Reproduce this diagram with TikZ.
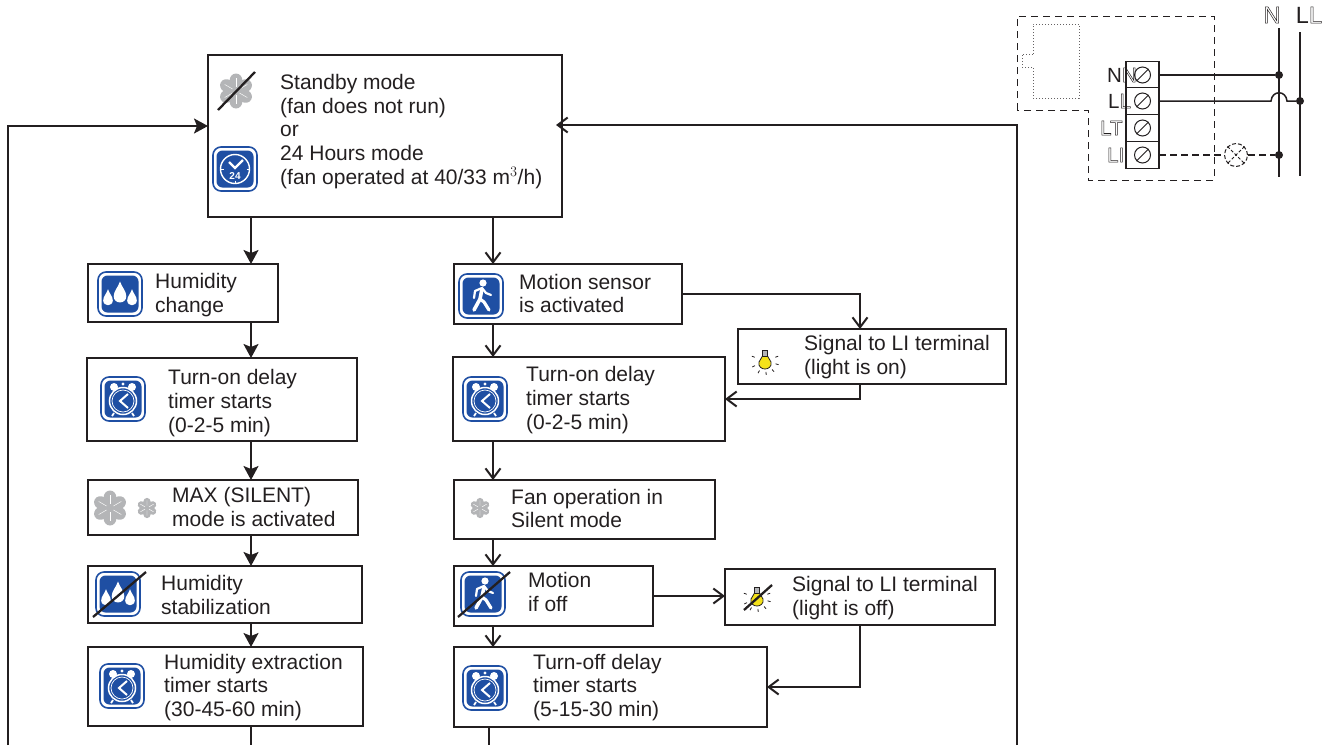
\documentclass[tikz,border=0pt]{standalone}
\usepackage{fontspec}
\usepackage{tikz}
\usepackage{xcolor}
\usetikzlibrary{arrows.meta, calc}
\setmainfont{Liberation Sans}

\definecolor{tileblue}{HTML}{1F4FA3}
\definecolor{fangray}{HTML}{B4B5B7}
\definecolor{inkdark}{HTML}{231F20}
\definecolor{bulbyellow}{HTML}{F5E21A}

\newcommand{\hollowtext}[1]{\special{pdf:code 1 Tr 0.5 w}#1\special{pdf:code 0 Tr 1 w}}

\tikzset{
  flowbox/.style={draw=inkdark, line width=1.5pt, inner sep=0pt, outer sep=0pt},
  flowtext/.style={font=\fontsize{21}{23.6}\selectfont, text=inkdark, align=left, anchor=west, inner sep=0pt},
  flowfill/.style={draw=inkdark, line width=1.8pt, -{Stealth[length=14pt,width=15pt,inset=3pt]}},
  flowopen/.style={draw=inkdark, line width=1.8pt, -{Straight Barb[length=10pt,width=15pt,line width=2pt]}},
  wire/.style={draw=inkdark, line width=1.5pt},
  wirelabel/.style={font=\fontsize{20.5}{22}\selectfont, text=inkdark, anchor=west, inner sep=0pt},
  slashline/.style={draw=inkdark, line width=2.3pt},
  tile/.pic={
    \draw[tileblue, line width=1.6pt, fill=white, rounded corners=8pt] (-22,-22) rectangle (22,22);
    \fill[tileblue, rounded corners=6pt] (-18.5,-18.5) rectangle (18.5,18.5);
  },
  fanicon/.pic={
    \foreach \a in {0,60,...,300} {
      \fill[fangray, rotate=\a] (0,-10.5) ellipse (6.4 and 7);
    }
    \fill[fangray] (0,0) circle (6);
    \foreach \a in {0,60,...,300} {
      \draw[white, line width=.45pt, rotate=\a] (30:4) -- (30:13);
    }
  },
  dropsicon/.pic={
    \foreach \dx/\dy/\s in {-12/4/0.8, 0/-1/1.05, 12/4/0.8} {
      \fill[white, shift={(\dx,\dy)}, scale=\s] (0,-11) .. controls (2,-5) and (6,-2) .. (6,3)
        .. controls (6,7) and (3,9) .. (0,9) .. controls (-3,9) and (-6,7) .. (-6,3)
        .. controls (-6,-2) and (-2,-5) .. (0,-11);
    }
  },
  walkericon/.pic={
    \fill[white] (2,-13) circle (3.6);
    \draw[white, line width=3.6pt, line cap=round, line join=round] (1,-7) -- (-1,3) -- (-7,14);
    \draw[white, line width=3.2pt, line cap=round, line join=round] (-1,3) -- (3,6) -- (8,14);
    \draw[white, line width=2.2pt, line cap=round, line join=round] (-7,2) -- (-6,-5) -- (1,-8) -- (5,-3) -- (10,-1);
  },
  clockicon/.pic={
    \fill[white] (-9,-12) circle (4) (9,-12) circle (4) (0,-15) circle (1.6);
    \draw[white, line width=1.5pt, fill=tileblue] (0,2) circle (13.5);
    \draw[white, line width=.7pt] (0,2) circle (11);
    \draw[white, line width=1.8pt] (-9,14) -- (-11,17) (9,14) -- (11,17);
    \draw[white, line width=2pt] (5,-5) -- (-3,2) -- (5,9);
  },
  dayicon/.pic={
    \draw[white, line width=1.4pt] (0,0) circle (14.5);
    \foreach \a in {0,90,180} {
      \draw[white, line width=1pt] (\a:11.5) -- (\a:14.5);
    }
    \draw[white, line width=2.2pt] (-6,-7) -- (0,-1) -- (8,-9);
    \node[font=\bfseries\fontsize{10}{10}\selectfont, text=white, inner sep=0pt] (dayhours) at (0,7) {24};
  },
  bulbicon/.pic={
    \foreach \a in {-20,15,50,85,120,155,200} {
      \draw[inkdark, line width=.8pt] (\a:11) -- (\a:14);
    }
    \draw[inkdark, line width=.8pt, fill=bulbyellow] (-2.5,-5) -- (2.5,-5) -- (6,1) .. controls (7,6) and (3,8) .. (0,8) .. controls (-3,8) and (-7,6) .. (-6,1) -- cycle;
    \draw[inkdark, line width=.7pt, fill=fangray] (-2.2,-11) rectangle (2.2,-5);
  },
}

\begin{document}
\begin{tikzpicture}[x=1pt, y=-1pt]
\useasboundingbox (0,0) rectangle (1330,745);

% Flow boxes with their texts
\foreach \nm/\xa/\ya/\xb/\yb/\tx/\ty/\txt in {
  standby/208/55/562/217/280/131.5/{Standby mode\\(fan does not run)\\or\\24 Hours mode\\(fan operated at 40/33 m$^{3}$/h)},
  humid/88/264/278/322/155/295/{Humidity\\change},
  delayA/87/358/357/441/168/403/{Turn-on delay\\timer starts\\(0-2-5 min)},
  maxfan/88/480/358/535/172/507/{MAX (SILENT)\\mode is activated},
  stable/88/566/362/623/161/595/{Humidity\\stabilization},
  extract/88/647/363/726/164/687.5/{Humidity extraction\\timer starts\\(30-45-60 min)},
  motion/454/264/682/324/519/293.5/{Motion sensor\\is activated},
  delayB/453/357/725/441/526/400/{Turn-on delay\\timer starts\\(0-2-5 min)},
  silent/454/480/715/539/511/508.5/{Fan operation in\\Silent mode},
  nomotion/454/566/653/626/528/592/{Motion\\if off},
  delayC/454/647/767/727/533/687.5/{Turn-off delay\\timer starts\\(5-15-30 min)},
  lighton/738/329/1006/384/804/357/{Signal to LI terminal\\(light is on)},
  lightoff/725/569/995/625/792/598/{Signal to LI terminal\\(light is off)}} {
    \node[flowbox, minimum width={(\xb-\xa)*1pt}, minimum height={(\yb-\ya)*1pt}] (\nm) at ({(\xa+\xb)/2},{(\ya+\yb)/2}) {};
    \node[flowtext] (\nm text) at (\tx,\ty) {\txt};
}

% Blue tiles
\foreach \cx/\cy/\kind in {235/169/dayicon, 120/294/dropsicon, 123/399/clockicon, 118/594/dropsicon, 122/686/clockicon,
  481/296/walkericon, 485/399/clockicon, 483/594/walkericon, 485/688/clockicon} {
    \pic at (\cx,\cy) {tile};
    \pic at (\cx,\cy) {\kind};
}

% Fans and bulbs
\pic at (236,91) {fanicon};
\pic at (110,508) {fanicon};
\pic[scale=.58] at (147,508) {fanicon};
\pic[scale=.58] at (480,508) {fanicon};
\pic at (765,361) {bulbicon};
\pic at (757,598) {bulbicon};

% Crossed out icons
\draw[slashline] (218,110) -- (255,72);
\draw[slashline] (93,617) -- (146,572);
\draw[slashline] (458,617) -- (510,572);
\draw[slashline] (744,610) -- (772,585);

% Arrows
\coordinate (axisA) at (251,0);
\coordinate (axisB) at (493,0);
\coordinate (axisC) at (860,0);
\coordinate (axisD) at (489,0);
\coordinate (loopL) at (8,745);
\coordinate (loopR) at (1017,745);
\coordinate (endA) at (251,745);
\coordinate (endB) at (489,745);
\coordinate (backR) at (556,125);
\coordinate (backL) at (208,126);

\draw[flowfill] (standby.south -| axisA) -- (humid.north -| axisA);
\draw[flowfill] (humid.south -| axisA) -- (delayA.north -| axisA);
\draw[flowfill] (delayA.south -| axisA) -- (maxfan.north -| axisA);
\draw[flowfill] (maxfan.south -| axisA) -- (stable.north -| axisA);
\draw[flowfill] (stable.south -| axisA) -- (extract.north -| axisA);
\draw[flowbox] (extract.south -| axisA) -- (endA);

\draw[flowopen] (standby.south -| axisB) -- (motion.north -| axisB);
\draw[flowopen] (motion.south -| axisB) -- (delayB.north -| axisB);
\draw[flowopen] (delayB.south -| axisB) -- (silent.north -| axisB);
\draw[flowopen] (silent.south -| axisB) -- (nomotion.north -| axisB);
\draw[flowopen] (nomotion.south -| axisB) -- (delayC.north -| axisB);
\draw[flowbox] (delayC.south -| axisD) -- (endB);

\draw[flowopen] (motion.east) -| (lighton.north -| axisC);
\draw[flowopen] (lighton.south -| axisC) |- (delayB.east);
\draw[flowopen] (nomotion.east) -- (lightoff.west |- nomotion.east);
\draw[flowopen] (lightoff.south -| axisC) |- (delayC.east);

\draw[flowfill] (loopL) |- (backL);
\draw[flowopen] (loopR) |- (backR);

% Wiring sketch
\draw[inkdark, line width=1pt, dash pattern=on 7pt off 5pt] (1017,110) -- (1017,16) -- (1214,16) -- (1214,180) -- (1088,180) -- (1088,110) -- cycle;
\draw[inkdark!70, line width=1pt, dotted] (1033,54) -- (1033,24) -- (1079,24) -- (1079,98) -- (1033,98) -- (1033,67) -- (1022,67) -- (1022,54) -- cycle;

\foreach \nm/\cy/\lx/\lab in {termN/75/1107/{N\hollowtext{N}}, termL/101/1108/{L\hollowtext{L}},
  termT/128/1100/{\hollowtext{LT}}, termI/155/1107/{\hollowtext{LI}}} {
    \node[flowbox, fill=white, minimum width=33pt, minimum height=27pt] (\nm) at (1142.5,\cy) {};
    \node[wirelabel] (\nm lab) at (\lx,\cy) {\lab};
    \node[draw=inkdark, circle, line width=1pt, minimum size=16pt, inner sep=0pt] (\nm screw) at (\nm) {};
    \draw[inkdark, line width=1pt] (\nm screw.225) -- ($(\nm screw.45)$);
}

\coordinate (railNtop) at (1279,28);
\coordinate (railNend) at (1279,177);
\coordinate (railLtop) at (1300,32);
\coordinate (railLend) at (1300,176);
\node[fill=inkdark, circle, minimum size=8pt, inner sep=0pt] (dotN) at (1279,75) {};
\node[fill=inkdark, circle, minimum size=8pt, inner sep=0pt] (dotL) at (1300,101) {};
\node[fill=inkdark, circle, minimum size=8pt, inner sep=0pt] (dotI) at (1279,155) {};
\node[draw=inkdark, circle, line width=1pt, dash pattern=on 4pt off 2pt, minimum size=23pt, inner sep=0pt] (lamp) at (1236,155) {};
\draw[inkdark, line width=1pt, dash pattern=on 3pt off 2pt] (lamp.45) -- (lamp.225) (lamp.135) -- (lamp.315);

\draw[wire] (railNtop) -- (railNend);
\draw[wire] (railLtop) -- (railLend);
\draw[wire] (termN.east) -- (dotN);
\coordinate (humpA) at (1271,101);
\coordinate (humpB) at (1287,101);
\draw[wire] (termL.east) -- (humpA) .. controls (1272,90) and (1286,90) .. (humpB) -- (dotL);
\draw[wire, dash pattern=on 7pt off 4pt] (termI.east) -- (lamp.west);
\draw[wire, dash pattern=on 7pt off 4pt] (lamp.east) -- (dotI);

\node[font=\fontsize{23.5}{24}\selectfont, text=inkdark, inner sep=0pt] (railNlab) at (1272,15) {\hollowtext{N}};
\node[font=\fontsize{23.5}{24}\selectfont, text=inkdark, inner sep=0pt] (railLlab) at (1309,15) {L\hollowtext{L}};
\end{tikzpicture}
\end{document}
